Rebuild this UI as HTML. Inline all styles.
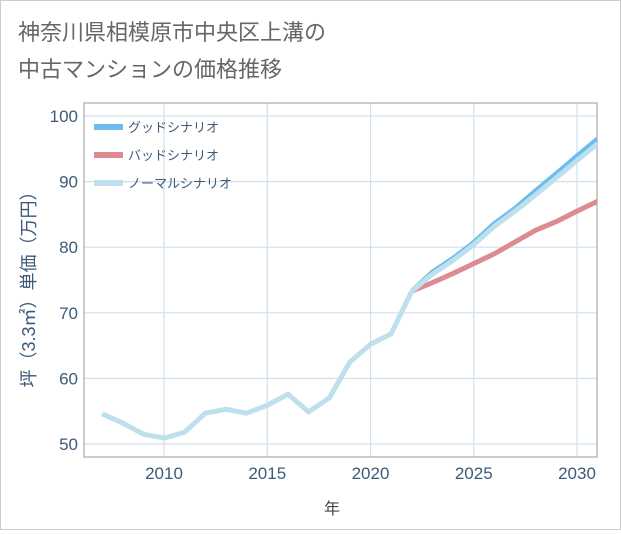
<!DOCTYPE html>
<html><head><meta charset="utf-8"><style>
html,body{margin:0;padding:0;background:#fff}
body{width:621px;height:530px;overflow:hidden;font-family:"Liberation Sans","Noto Sans CJK JP",sans-serif}
</style></head><body>
<svg id="chart" width="621" height="530" xmlns="http://www.w3.org/2000/svg" font-family="Liberation Sans, Noto Sans CJK JP, sans-serif">
<rect x="0.5" y="0.5" width="620" height="529" fill="#fff" stroke="#ccc"/>
<text x="18" y="40" font-size="22" fill="#666">神奈川県相模原市中央区上溝の</text>
<text x="18" y="77" font-size="22" fill="#666">中古マンションの価格推移</text>
<g id="grid"></g>
<g id="axes"></g>
<g id="series"></g>
<g id="legend"></g>
<text x="332" y="514" font-size="16" fill="#444" text-anchor="middle">年</text>
<text transform="translate(35,285) rotate(-90)" font-size="18" fill="#3d5a7a" text-anchor="middle">坪（3.3㎡）単価（万円）</text>
</svg>
<script>
const histYears=[2007,2008,2009,2010,2011,2012,2013,2014,2015,2016,2017,2018,2019,2020,2021,2022];
const histValues=[54.6,53.2,51.5,50.9,51.8,54.7,55.3,54.7,55.9,57.6,54.9,57.0,62.5,65.2,66.8,73.3];
const futYears=[2022,2023,2024,2025,2026,2027,2028,2029,2030,2031];
const goodValues=[73.3,76.2,78.3,80.7,83.6,85.9,88.6,91.2,93.9,96.5];
const badValues=[73.3,74.6,76.0,77.5,79.0,80.8,82.6,83.9,85.5,87.0];
const normalValues=[73.3,75.9,78.0,80.4,83.2,85.5,88.0,90.6,93.2,95.8];
const yTicks=[50,60,70,80,90,100];
const xTicks=[2010,2015,2020,2025,2030];
const legendLabels=["グッドシナリオ","バッドシナリオ","ノーマルシナリオ"];
const L=84,R=597,T=103,B=457;
const X=y=>164+(y-2010)*20.65;
const Y=v=>444-(v-50)*6.56;
const NS="http://www.w3.org/2000/svg";
function mk(tag,attrs,parent){const e=document.createElementNS(NS,tag);for(const k in attrs)e.setAttribute(k,attrs[k]);document.getElementById(parent).appendChild(e);return e;}
for(const t of yTicks){
 const l=mk('line',{x1:L,x2:R,y1:Y(t),y2:Y(t),stroke:'#cfe0ec','stroke-width':1.2},'grid');
 
 
 const tx=mk('text',{x:L-6,y:Y(t)+6,'text-anchor':'end','font-size':17,fill:'#3d5a7a'},'axes');
 tx.textContent=t;
 
 
}
for(const t of xTicks){
 const l=mk('line',{x1:X(t),x2:X(t),y1:T,y2:B,stroke:'#cfe0ec','stroke-width':1.2},'grid');
 
 
 const tx=mk('text',{x:X(t),y:B+22,'text-anchor':'middle','font-size':17,fill:'#3d5a7a'},'axes');
 tx.textContent=t;
 
 
}
const fr=mk('rect',{x:L,y:T,width:R-L,height:B-T,fill:'none',stroke:'#999','stroke-width':1},'axes');


function line(xs,vs,color,w,name){
 const p=mk('polyline',{points:xs.map((x,i)=>X(x)+','+Y(vs[i])).join(' '),fill:'none',stroke:color,'stroke-width':w,'stroke-linejoin':'round'},'series');
 
 
}
const clip=mk('clipPath',{id:'pc'},'series');
mk('rect',{x:L,y:T,width:R-L,height:B-T},'pc');
document.getElementById('series').setAttribute('clip-path','url(#pc)');
line(futYears,badValues,'#de8a92',5,'bad-scenario-line');
line(futYears,goodValues,'#6bbcef',5,'good-scenario-line');
line(futYears,normalValues,'#bde0ec',5,'normal-scenario-line');
line(histYears,histValues,'#bde0ec',5,'historical-line');
const lc=['#6bbcef','#de8a92','#bde0ec'];
legendLabels.forEach((s,i)=>{
 const y=127+i*28;
 const r=mk('rect',{x:94,y:y-3,width:29,height:6,fill:lc[i]},'legend');
 
 
 const t=mk('text',{x:128,y:y+5,'font-size':13,fill:'#3d5a7a'},'legend');
 t.textContent=s;
 
 
});
</script>
</body></html>
